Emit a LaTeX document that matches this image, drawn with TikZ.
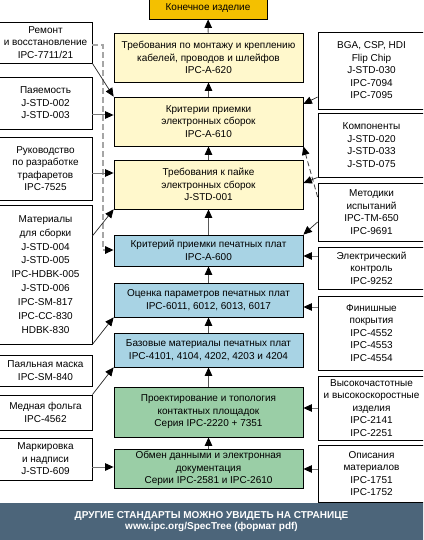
\documentclass[tikz,border=0pt]{standalone}
\usepackage{fontspec}
\setmainfont{Liberation Sans}
\usetikzlibrary{arrows.meta}
\definecolor{finc}{RGB}{244,192,0}
\definecolor{yelc}{RGB}{255,248,204}
\definecolor{bluc}{RGB}{168,211,228}
\definecolor{grnc}{RGB}{154,206,166}
\definecolor{banc}{RGB}{76,101,122}
\definecolor{linec}{RGB}{120,120,120}
\begin{document}
\begin{tikzpicture}[x=1pt,y=-1pt,
  box/.style={draw=black, line width=0.8pt, inner sep=0pt, align=center,
    font={\fontsize{10}{12.5}\selectfont}},
  finbox/.style={box, fill=finc},
  ybox/.style={box, fill=yelc, minimum width=189pt},
  bbox/.style={box, fill=bluc, minimum width=189pt},
  gbox/.style={box, fill=grnc, minimum width=189pt},
  lbox/.style={box, fill=white, minimum width=93pt},
  rbox/.style={box, fill=white, minimum width=107pt},
  tip/.style={-{Triangle[length=8.5pt,width=7.5pt,color=black]}},
  vconn/.style={tip, draw=black!65, line width=1pt},
  hconn/.style={tip, draw=linec, line width=1pt},
  dconn/.style={tip, draw=black!35, line width=1.3pt, dash pattern=on 6pt off 3pt},
  diag/.style={tip, draw=black!85, line width=0.7pt},
  ddiag/.style={tip, draw=black!75, line width=0.8pt, dash pattern=on 5pt off 3pt}
]
\useasboundingbox (0,0) rectangle (423,540);
\clip (0,0) rectangle (423,540);
\fill[white] (0,0) rectangle (423,540);

% centre column
\node[finbox, minimum width=118pt, minimum height=22pt] (fin) at (208,8) {Конечное изделие};
\node[ybox, minimum height=49pt] (b620) at (208.5,57.5) {Требования по монтажу и креплению\\кабелей, проводов и шлейфов\\IPC-A-620};
\node[ybox, minimum height=49pt] (b610) at (208.5,121.5) {Критерии приемки\\электронных сборок\\IPC-A-610};
\node[ybox, minimum height=49pt] (b001) at (208.5,184.5) {Требования к пайке\\электронных сборок\\J-STD-001};
\node[bbox, minimum height=31pt] (b600) at (208.5,250.5) {Критерий приемки печатных плат\\IPC-A-600};
\node[bbox, minimum height=34pt] (b6011) at (208.5,300) {Оценка параметров печатных плат\\IPC-6011, 6012, 6013, 6017};
\node[bbox, minimum height=34pt] (b4101) at (208.5,350) {Базовые материалы печатных плат\\IPC-4101, 4104, 4202, 4203 и 4204};
\node[gbox, minimum height=50pt] (b2220) at (208.5,412) {Проектирование и топология\\контактных площадок\\Серия IPC-2220 + 7351};
\node[gbox, minimum height=39pt] (b2581) at (208.5,468.5) {Обмен данными и электронная\\документация\\Серии IPC-2581 и IPC-2610};

% left column
\node[lbox, minimum height=41pt] (L1) at (45.5,42.5) {Ремонт\\и восстановление\\IPC-7711/21};
\node[lbox, minimum height=52pt] (L2) at (45.5,103) {Паяемость\\J-STD-002\\J-STD-003};
\node[lbox, minimum height=63pt] (L3) at (45.5,168.5) {Руководство\\по разработке\\трафаретов\\IPC-7525};
\node[lbox, minimum height=139pt, font={\fontsize{10}{13.9}\selectfont}] (L4) at (45.5,274.5) {Материалы\\для сборки\\J-STD-004\\J-STD-005\\IPC-HDBK-005\\J-STD-006\\IPC-SM-817\\IPC-CC-830\\HDBK-830};
\node[lbox, minimum height=31pt] (L5) at (45.5,370.5) {Паяльная маска\\IPC-SM-840};
\node[lbox, minimum height=35pt] (L6) at (45.5,412.5) {Медная фольга\\IPC-4562};
\node[lbox, minimum height=42pt] (L7) at (45.5,459) {Маркировка\\и надписи\\J-STD-609};

% right column
\node[rbox, minimum height=77pt] (R1) at (371.5,70.5) {BGA, CSP, HDI\\Flip Chip\\J-STD-030\\IPC-7094\\IPC-7095};
\node[rbox, minimum height=64pt] (R2) at (371.5,145) {Компоненты\\J-STD-020\\J-STD-033\\J-STD-075};
\node[rbox, minimum height=58pt] (R3) at (371.5,212) {Методики\\испытаний\\IPC-TM-650\\IPC-9691};
\node[rbox, minimum height=42pt] (R4) at (371.5,268) {Электрический\\контроль\\IPC-9252};
\node[rbox, minimum height=74pt] (R5) at (371.5,333) {Финишные\\покрытия\\IPC-4552\\IPC-4553\\IPC-4554};
\node[rbox, minimum height=64pt] (R6) at (371.5,408) {Высокочастотные\\и высокоскоростные\\изделия\\IPC-2141\\IPC-2251};
\node[rbox, minimum height=57pt] (R7) at (371.5,473.5) {Описания\\материалов\\IPC-1751\\IPC-1752};

% banner
\node[fill=banc, minimum width=425pt, minimum height=37pt, inner sep=0pt, text=white, align=center,
  font={\bfseries\fontsize{10}{11.5}\selectfont}] (ban) at (211.5,521.5)
  {ДРУГИЕ СТАНДАРТЫ МОЖНО УВИДЕТЬ НА СТРАНИЦЕ\\www.ipc.org/SpecTree (формат pdf)};

% vertical connectors
\draw[vconn] (b620) -- (fin);
\draw[vconn] (b610) -- (b620);
\draw[vconn] (b001) -- (b610);
\draw[vconn] (b600) -- (b001);
\draw[vconn] (b6011) -- (b600);
\draw[vconn] (b4101) -- (b6011);
\draw[vconn] (b2220) -- (b4101);
\draw[vconn] (b2581) -- (b2220);

% left connectors
\coordinate (dcorner) at (103,250);
\draw[dconn] (L1.east |- 0,45) -| (dcorner) -- (b600.west |- dcorner);
\draw[diag] (L1.south east) -- (b610.north west);
\draw[hconn] (L2.east |- 0,115) -- (b610.west |- 0,115);
\draw[hconn] (L3.east |- 0,173) -- (b001.west |- 0,173);
\draw[diag] (L4.east |- 0,236) -- (b001.south west);
\draw[diag] (L4.south east) -- (b6011.south west);
\draw[diag] (L6.north east) -- (b4101.south west);
\draw[hconn] (L7.east |- 0,467) -- (b2581.west |- 0,467);

% right connectors
\draw[diag] (R1.west |- 0,97) -- (b610.east |- 0,104);
\draw[ddiag] (R3.west |- 0,197) -- (b610.south east);
\draw[diag] (R2.south west) -- (b001.east |- 0,183);
\draw[diag] (R3.west |- 0,222) -- (b600.north east);
\draw[hconn] (R4.west |- 0,256) -- (b600.east |- 0,256);
\draw[hconn] (R5.west |- 0,307) -- (b6011.east |- 0,307);
\draw[hconn] (R6.west |- 0,408) -- (b2220.east |- 0,408);
\draw[hconn] (R7.west |- 0,469) -- (b2581.east |- 0,469);
\end{tikzpicture}
\end{document}
